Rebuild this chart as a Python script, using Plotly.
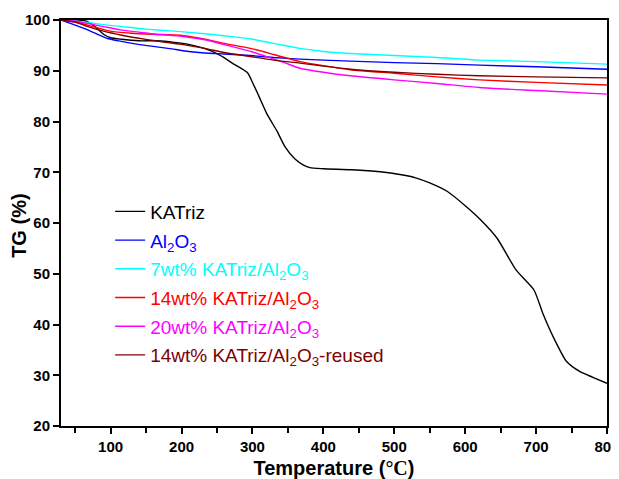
import plotly.graph_objects as go

# ---- data ----
T_katriz = [30, 50, 65, 78, 90, 100, 115, 140, 165, 190, 210, 232, 254, 275, 293, 301, 310, 320, 335, 346, 360, 372, 381, 400, 440, 480, 510, 530, 550, 575, 600, 622, 645, 672, 697, 710, 724, 743, 762, 780, 800]
v_katriz = [100, 100, 99.8, 98.7, 97.2, 96.5, 96.2, 95.9, 95.9, 95.6, 95.2, 94.4, 93.1, 91.2, 89.6, 87.4, 84.7, 81.6, 78.0, 75.0, 72.6, 71.4, 70.9, 70.7, 70.5, 70.1, 69.5, 68.9, 67.9, 66.2, 63.4, 60.6, 57.0, 50.7, 46.8, 42.0, 37.6, 32.7, 30.7, 29.6, 28.4]

T_al2o3 = [30, 50, 65, 78, 97, 115, 139, 160, 186, 210, 233, 260, 297, 330, 367, 400, 438, 500, 560, 620, 700, 800]
v_al2o3 = [100, 99.0, 98.2, 97.4, 96.3, 95.8, 95.2, 94.8, 94.3, 93.8, 93.5, 93.3, 93.0, 92.6, 92.3, 92.1, 91.9, 91.6, 91.4, 91.1, 90.8, 90.3]

T_7wt = [30, 50, 68, 90, 116, 150, 190, 233, 260, 297, 330, 367, 400, 438, 500, 560, 620, 700, 800]
v_7wt = [100, 99.8, 99.5, 99.1, 98.7, 98.2, 97.8, 97.3, 96.9, 96.3, 95.4, 94.4, 93.8, 93.4, 93.0, 92.6, 92.1, 91.8, 91.3]

T_14wt = [30, 50, 70, 99, 130, 160, 198, 226, 260, 297, 330, 367, 400, 438, 500, 560, 620, 700, 800]
v_14wt = [100, 99.6, 98.9, 97.8, 97.4, 97.2, 97.0, 96.4, 95.4, 94.4, 93.2, 91.8, 91.0, 90.2, 89.5, 88.8, 88.2, 87.7, 87.2]

T_20wt = [30, 50, 68, 90, 116, 140, 163, 200, 233, 273, 300, 320, 345, 367, 400, 438, 500, 560, 620, 700, 800]
v_20wt = [100, 99.8, 99.3, 98.7, 98.0, 97.6, 97.2, 96.8, 96.1, 94.7, 93.7, 92.8, 91.6, 90.5, 89.7, 89.0, 88.2, 87.5, 86.7, 86.1, 85.4]

T_reused = [30, 50, 68, 90, 116, 140, 163, 200, 233, 260, 297, 330, 367, 400, 438, 500, 560, 620, 700, 800]
v_reused = [100, 99.6, 98.7, 97.8, 97.0, 96.4, 95.9, 95.2, 94.4, 93.6, 92.8, 92.1, 91.5, 90.9, 90.3, 89.7, 89.3, 89.0, 88.8, 88.6]

AL = "Al<sub>2</sub>O<sub>3</sub>"
series = [
    ("KATriz", T_katriz, v_katriz, "#000000"),
    (AL, T_al2o3, v_al2o3, "#0000ff"),
    ("7wt% KATriz/" + AL, T_7wt, v_7wt, "#00ffff"),
    ("14wt% KATriz/" + AL, T_14wt, v_14wt, "#ff0000"),
    ("20wt% KATriz/" + AL, T_20wt, v_20wt, "#ff00ff"),
    ("14wt% KATriz/" + AL + "-reused", T_reused, v_reused, "#800000"),
]

x_ticks = [100, 200, 300, 400, 500, 600, 700, 800]
y_ticks = [20, 30, 40, 50, 60, 70, 80, 90, 100]

fig = go.Figure()
for i, (name, xs, ys, col) in enumerate(series):
    fig.add_trace(go.Scatter(
        x=xs, y=ys, mode="lines",
        line=dict(color=col, width=1.4, shape="spline", smoothing=0.6),
        name=f"<span style='color:{col}'>{name}</span>",
        legendgroup=f"g{i}",
    ))

FONT = "Liberation Sans, Arial, sans-serif"
# the page body adds an 8px offset, so the figure is 8px smaller on each axis
fig.update_layout(
    width=611, height=471,
    margin=dict(l=53, r=12, t=12, b=53),
    paper_bgcolor="white", plot_bgcolor="white",
    font=dict(family=FONT, color="black"),
    showlegend=True,
    legend=dict(
        x=0.09, y=0.575, xanchor="left", yanchor="top",
        bgcolor="rgba(0,0,0,0)", font=dict(size=19, family=FONT),
        tracegroupgap=1, itemwidth=30,
    ),
    xaxis=dict(
        range=[30, 800], tickvals=x_ticks, automargin=False,
        ticklabeloverflow="allow",
        ticks="outside", ticklen=6, tickwidth=1.5, tickcolor="black",
        showline=True, linewidth=2, linecolor="black", mirror=True,
        showgrid=False, zeroline=False,
        tickfont=dict(size=15, family=FONT, weight="bold"),
        minor=dict(dtick=50, tick0=0, ticks="outside", ticklen=5, tickwidth=1.5, tickcolor="black", showgrid=False),
        title=dict(text="Temperature (<span style='font-family:Liberation Serif, Times New Roman, serif'>°C</span>)",
                   font=dict(size=20, family=FONT, weight="bold")),
    ),
    yaxis=dict(
        range=[20, 100], tickvals=y_ticks, automargin=False,
        ticklabeloverflow="allow",
        ticks="outside", ticklen=6, tickwidth=1.5, tickcolor="black",
        showline=True, linewidth=2, linecolor="black", mirror=True,
        showgrid=False, zeroline=False,
        tickfont=dict(size=15, family=FONT, weight="bold"),
    ),
    annotations=[dict(
        text="TG (%)", xref="paper", yref="paper",
        x=-42 / 546, y=0.493, xanchor="center", yanchor="middle",
        textangle=-90, showarrow=False,
        font=dict(size=20, family=FONT, weight="bold", color="black"),
    )],
)

fig.write_html("out.html")
